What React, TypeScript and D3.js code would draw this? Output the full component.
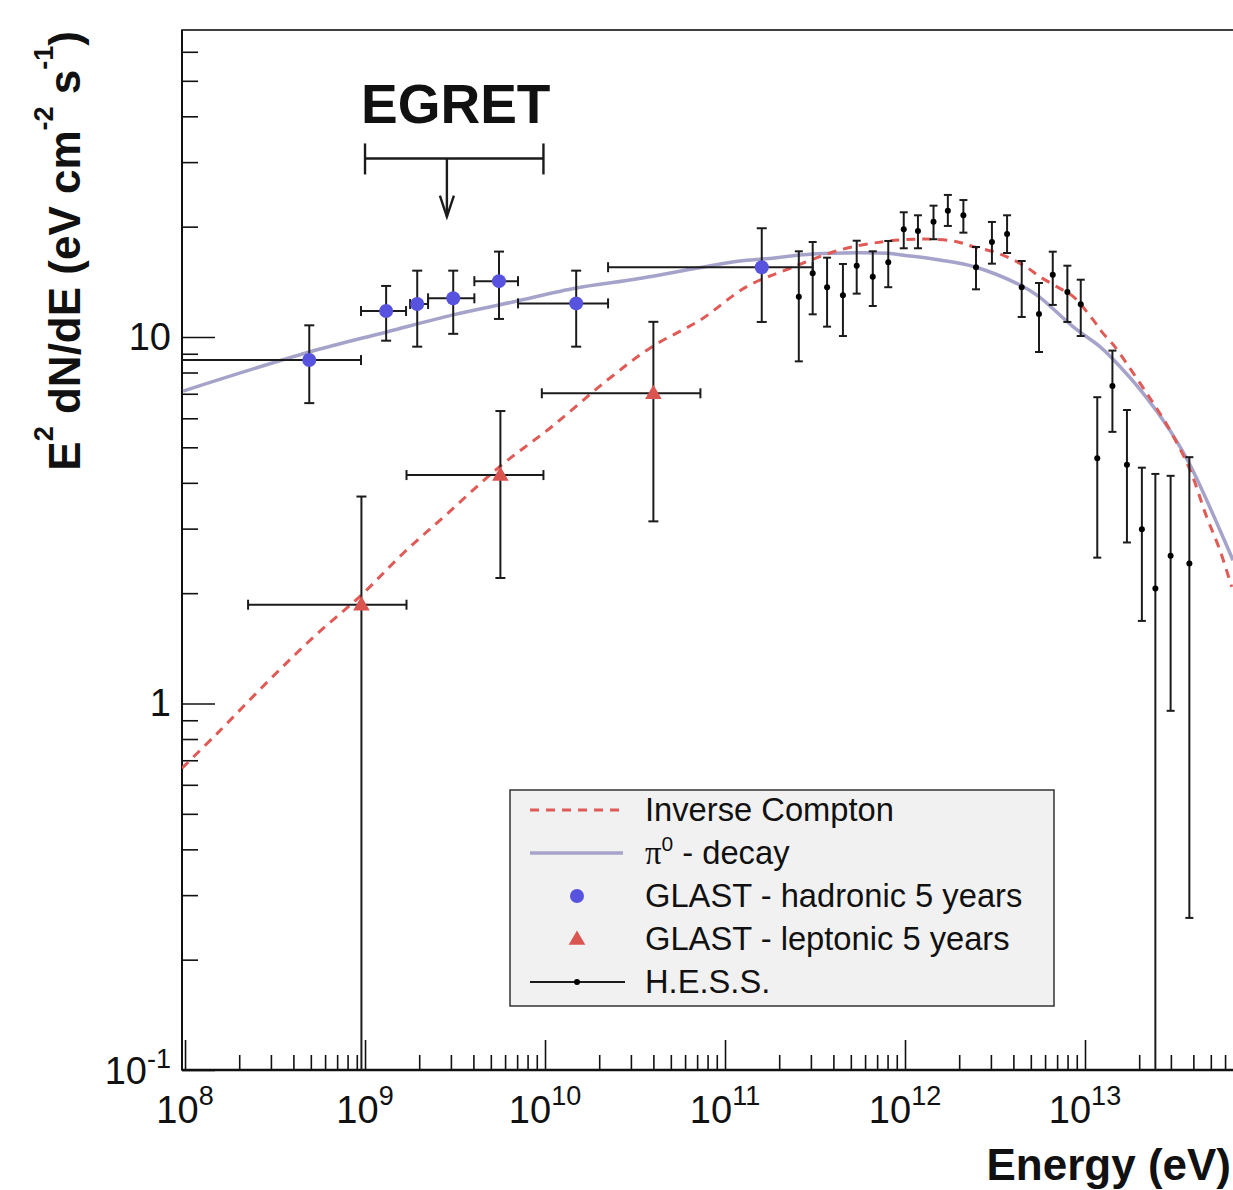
import React, { useEffect, useRef } from 'react';
import * as d3 from 'd3';

// GLAST - hadronic 5 years (blue circles), asymmetric errors
const hadE = [4.9e8, 1.31e9, 1.95e9, 3.09e9, 5.55e9, 1.49e10, 1.6e11];
const hadV = [8.65, 11.77, 12.3, 12.75, 14.2, 12.35, 15.5];
const hadELo = [5e7, 9.5e8, 1.78e9, 2.24e9, 4.05e9, 7.08e9, 2.24e10];
const hadEHi = [9.5e8, 1.69e9, 2.24e9, 4.05e9, 7.08e9, 2.24e10, 3.07e11];
const hadVLo = [6.6, 9.77, 9.41, 10.2, 11.2, 9.41, 10.99];
const hadVHi = [10.76, 13.78, 15.17, 15.17, 17.1, 15.17, 19.8];

// GLAST - leptonic 5 years (red triangles)
const lepE = [9.55e8, 5.65e9, 4.0e10];
const lepV = [1.86, 4.2, 7.02];
const lepELo = [2.24e8, 1.7e9, 9.6e9];
const lepEHi = [1.7e9, 9.8e9, 7.3e10];
const lepVLo = [0.05, 2.2, 3.14];
const lepVHi = [3.67, 6.28, 11.0];

// H.E.S.S. points
const hessE = [
  2.57e11, 3.07e11, 3.69e11, 4.52e11, 5.39e11, 6.62e11, 8.07e11, 9.84e11, 1.18e12,
  1.44e12, 1.73e12, 2.11e12, 2.48e12, 3.04e12, 3.69e12, 4.45e12, 5.55e12, 6.62e12,
  7.98e12, 9.47e12, 1.17e13, 1.42e13, 1.71e13, 2.07e13, 2.46e13, 2.99e13, 3.8e13,
];
const hessV = [
  12.88, 14.92, 13.67, 13.0, 15.65, 14.6, 15.99, 19.67, 19.46, 20.64, 22.11, 21.48,
  15.5, 18.16, 19.1, 13.67, 11.55, 14.79, 13.27, 12.28, 4.67, 7.35, 4.48, 2.99, 2.06,
  2.53, 2.41,
];
const hessHi = [
  17.13, 18.16, 16.46, 15.82, 18.31, 17.13, 18.28, 21.89, 21.48, 22.82, 24.41, 23.64,
  17.6, 20.6, 21.48, 16.12, 14.04, 17.09, 15.65, 14.33, 6.85, 9.18, 6.32, 4.4, 4.23,
  4.18, 4.7,
];
const hessLo = [
  8.58, 11.53, 10.67, 10.06, 13.13, 12.15, 13.67, 17.46, 17.46, 18.48, 20.09, 19.26,
  13.49, 15.85, 16.95, 11.34, 9.1, 12.23, 10.99, 10.06, 2.5, 5.51, 2.75, 1.68, 0.05,
  0.955, 0.26,
];

// model curves
const icE = [
  9.62e7, 1.51e8, 2.94e8, 5.2e8, 9.55e8, 1.63e9, 2.88e9, 5.6e9, 1.09e10, 2.22e10,
  3.94e10, 7.3e10, 1.32e11, 2.3e11, 4.36e11, 7.57e11, 1.11e12, 1.44e12, 1.94e12,
  2.39e12, 3.1e12, 3.83e12, 4.74e12, 5.62e12, 6.97e12, 8.61e12, 1.11e13, 1.26e13,
  1.44e13, 2.02e13, 2.5e13, 3.03e13, 3.83e13, 4.74e13, 5.62e13, 6.53e13,
];
const icV = [
  0.666, 0.829, 1.159, 1.521, 1.977, 2.57, 3.304, 4.43, 5.69, 7.63, 9.41, 11.13, 13.72,
  15.4, 17.28, 18.2, 18.48, 18.48, 18.2, 17.64, 17.09, 16.39, 15.5, 14.6, 13.72, 12.88,
  11.13, 10.23, 9.51, 7.48, 6.39, 5.46, 4.34, 3.23, 2.62, 2.08,
];
const pi0E = [
  9.75e7, 4.9e8, 1.32e9, 3.08e9, 6.64e9, 1.49e10, 2.96e10, 1.21e11, 1.63e11, 3.08e11,
  5.41e11, 8.05e11, 9.86e11, 1.56e12, 2.48e12, 4.47e12, 5.55e12, 8.57e12, 1.21e13,
  1.41e13, 2.1e13, 2.96e13, 3.83e13, 6.64e13,
];
const pi0V = [
  7.12, 9.1, 10.32, 11.49, 12.46, 13.6, 14.3, 16.12, 16.32, 16.84, 16.98, 16.92, 16.71,
  16.22, 15.5, 13.77, 12.88, 10.67, 9.41, 8.76, 7.03, 5.57, 4.48, 2.46,
];

// EGRET upper limit band
const egretE = [1e9, 9.8e9];
const egretMid = 2.85e9;
const egretV = [30.7, 21.3];

// axes
const xRange = [9.62e7, 1e14];
const yRange = [0.1, 68.8];
const xExp = [8, 9, 10, 11, 12, 13];
const yMajor = [0.1, 1, 10];
const yLabels = [['10', '-1'], ['1', ''], ['10', '']];

const legendLabels = [
  'Inverse Compton',
  'π0 - decay',
  'GLAST - hadronic 5 years',
  'GLAST - leptonic 5 years',
  'H.E.S.S.',
];

const W = 1233;
const H = 1190;
const FONT = '"Liberation Sans", Arial, Helvetica, sans-serif';
const BLUE = '#5753df';
const RED = '#db5550';
const IC_RED = '#e05a56';
const LAV = '#a6a3ca';
const INK = '#1b1b1b';

const Chart: React.FC = () => {
  const svgRef = useRef<SVGSVGElement>(null);

  useEffect(() => {
    if (!svgRef.current) return;
    const svg = d3.select(svgRef.current);
    svg.selectAll('*').remove();

    const left = 182;
    const right = 1265;
    const top = 30;
    const bottom = 1070;

    const x = d3.scaleLog().domain(xRange).range([left, right]);
    const y = d3.scaleLog().domain(yRange).range([bottom, top]);

    svg.append('rect').attr('width', W).attr('height', H).attr('fill', '#fff');

    svg
      .append('defs')
      .append('clipPath')
      .attr('id', 'plot-clip')
      .append('rect')
      .attr('x', left)
      .attr('y', top)
      .attr('width', right - left)
      .attr('height', bottom - top);

    // frame
    svg
      .append('rect')
      .attr('x', left)
      .attr('y', top)
      .attr('width', right - left)
      .attr('height', bottom - top)
      .attr('fill', 'none')
      .attr('stroke', '#111')
      .attr('stroke-width', 1.6);

    // x ticks (pointing up into the frame)
    const xMajorT = xExp.map((k) => Math.pow(10, k));
    const xMinorT = xMajorT.flatMap((t) => d3.range(2, 10).map((m) => m * t));
    const tickStyle = (g: any) => {
      g.select('.domain').remove();
      g.selectAll('line').attr('stroke', '#111').attr('stroke-width', 1.6);
    };
    svg
      .append('g')
      .attr('transform', `translate(0,${bottom})`)
      .call(d3.axisBottom(x).tickValues(xMinorT).tickSize(-15).tickFormat(() => '') as any)
      .call(tickStyle);
    svg
      .append('g')
      .attr('transform', `translate(0,${bottom})`)
      .call(d3.axisBottom(x).tickValues(xMajorT).tickSize(-30).tickFormat(() => '') as any)
      .call(tickStyle);

    // y ticks (pointing right into the frame)
    const yMinorT = [0.1, 1, 10].flatMap((t) => d3.range(2, 10).map((m) => m * t)).filter((v) => v <= yRange[1]);
    svg
      .append('g')
      .attr('transform', `translate(${left},0)`)
      .call(d3.axisLeft(y).tickValues(yMinorT).tickSize(-16).tickFormat(() => '') as any)
      .call(tickStyle);
    svg
      .append('g')
      .attr('transform', `translate(${left},0)`)
      .call(d3.axisLeft(y).tickValues(yMajor).tickSize(-33).tickFormat(() => '') as any)
      .call(tickStyle);

    // thicker axis lines
    svg.append('line').attr('x1', left).attr('x2', right).attr('y1', bottom).attr('y2', bottom)
      .attr('stroke', '#111').attr('stroke-width', 2.4);
    svg.append('line').attr('x1', left).attr('x2', left).attr('y1', top).attr('y2', bottom)
      .attr('stroke', '#111').attr('stroke-width', 2);

    // x tick labels
    xExp.forEach((k) => {
      const t = svg
        .append('text')
        .attr('x', x(Math.pow(10, k)))
        .attr('y', 1123)
        .attr('text-anchor', 'middle')
        .attr('font-family', FONT)
        .attr('font-size', 38)
        .attr('fill', '#111');
      t.append('tspan').text('10');
      t.append('tspan').attr('dy', -18).attr('font-size', 27).text(String(k));
    });

    // y tick labels
    yMajor.forEach((v, i) => {
      const [base, ex] = yLabels[i];
      const t = svg
        .append('text')
        .attr('x', 171)
        .attr('y', v === 0.1 ? 1084 : y(v) + 13)
        .attr('text-anchor', 'end')
        .attr('font-family', FONT)
        .attr('font-size', 38)
        .attr('fill', '#111');
      t.append('tspan').text(base);
      if (ex) t.append('tspan').attr('dy', -16).attr('font-size', 27).text(ex);
    });

    // axis titles
    svg
      .append('text')
      .attr('x', 1231)
      .attr('y', 1180)
      .attr('text-anchor', 'end')
      .attr('font-family', FONT)
      .attr('font-weight', 'bold')
      .attr('font-size', 44)
      .attr('fill', '#111')
      .text('Energy (eV)');

    const yt = svg
      .append('text')
      .attr('transform', 'translate(80,31) rotate(-90)')
      .attr('text-anchor', 'end')
      .attr('font-family', FONT)
      .attr('font-weight', 'bold')
      .attr('font-size', 44)
      .attr('fill', '#111');
    yt.append('tspan').text('E');
    yt.append('tspan').attr('dy', -27).attr('font-size', 27).text('2');
    yt.append('tspan').attr('dy', 27).text(' dN/dE (eV cm');
    yt.append('tspan').attr('dy', -27).attr('font-size', 27).text('-2');
    yt.append('tspan').attr('dy', 27).text(' s');
    yt.append('tspan').attr('dy', -27).attr('font-size', 27).text('-1');
    yt.append('tspan').attr('dy', 27).text(')');

    // plot content
    const plot = svg.append('g').attr('clip-path', 'url(#plot-clip)');

    const line = d3
      .line<[number, number]>()
      .x((d) => x(d[0]))
      .y((d) => y(d[1]))
      .curve(d3.curveCatmullRom.alpha(0.5));

    plot
      .append('path')
      .attr('d', line(pi0E.map((e, i) => [e, pi0V[i]]) as [number, number][]))
      .attr('fill', 'none')
      .attr('stroke', LAV)
      .attr('stroke-width', 3.5);

    plot
      .append('path')
      .attr('d', line(icE.map((e, i) => [e, icV[i]]) as [number, number][]))
      .attr('fill', 'none')
      .attr('stroke', IC_RED)
      .attr('stroke-width', 3)
      .attr('stroke-dasharray', '9,7');

    const drawErrors = (
      E: number[], V: number[], vLo: number[], vHi: number[],
      eLo: number[] | null, eHi: number[] | null, cap: number,
    ) => {
      const g = plot.append('g').attr('stroke', INK).attr('stroke-width', 2);
      E.forEach((e, i) => {
        const cx = x(e);
        const cy = y(V[i]);
        const yl = y(vLo[i]);
        const yh = y(vHi[i]);
        g.append('line').attr('x1', cx).attr('x2', cx).attr('y1', yl).attr('y2', yh);
        g.append('line').attr('x1', cx - cap).attr('x2', cx + cap).attr('y1', yh).attr('y2', yh);
        g.append('line').attr('x1', cx - cap).attr('x2', cx + cap).attr('y1', yl).attr('y2', yl);
        if (eLo && eHi) {
          const xl = x(eLo[i]);
          const xh = x(eHi[i]);
          g.append('line').attr('x1', xl).attr('x2', xh).attr('y1', cy).attr('y2', cy);
          g.append('line').attr('x1', xl).attr('x2', xl).attr('y1', cy - cap).attr('y2', cy + cap);
          g.append('line').attr('x1', xh).attr('x2', xh).attr('y1', cy - cap).attr('y2', cy + cap);
        }
      });
    };

    drawErrors(hessE, hessV, hessLo, hessHi, null, null, 4);
    drawErrors(hadE, hadV, hadVLo, hadVHi, hadELo, hadEHi, 5);
    drawErrors(lepE, lepV, lepVLo, lepVHi, lepELo, lepEHi, 5);

    plot
      .selectAll('circle.hess')
      .data(hessE)
      .enter()
      .append('circle')
      .attr('class', 'hess')
      .attr('cx', (d) => x(d))
      .attr('cy', (d, i) => y(hessV[i]))
      .attr('r', 3)
      .attr('fill', '#000');

    plot
      .selectAll('circle.had')
      .data(hadE)
      .enter()
      .append('circle')
      .attr('class', 'had')
      .attr('cx', (d) => x(d))
      .attr('cy', (d, i) => y(hadV[i]))
      .attr('r', 7)
      .attr('fill', BLUE);

    const tri = d3.symbol().type(d3.symbolTriangle).size(120);
    plot
      .selectAll('path.lep')
      .data(lepE)
      .enter()
      .append('path')
      .attr('class', 'lep')
      .attr('d', tri() as string)
      .attr('transform', (d, i) => `translate(${x(d)},${y(lepV[i]) + 1})`)
      .attr('fill', RED);

    // EGRET annotation
    const eg = svg.append('g').attr('stroke', INK).attr('stroke-width', 2.4).attr('fill', 'none');
    const ey = y(egretV[0]);
    const x0 = x(egretE[0]);
    const x1 = x(egretE[1]);
    const xm = x(egretMid);
    const tip = y(egretV[1]);
    eg.append('line').attr('x1', x0).attr('x2', x1).attr('y1', ey).attr('y2', ey);
    eg.append('line').attr('x1', x0).attr('x2', x0).attr('y1', ey - 15).attr('y2', ey + 16);
    eg.append('line').attr('x1', x1).attr('x2', x1).attr('y1', ey - 15).attr('y2', ey + 16);
    eg.append('line').attr('x1', xm).attr('x2', xm).attr('y1', ey).attr('y2', tip);
    eg.append('path').attr('d', `M${xm - 7},${tip - 21} L${xm},${tip} L${xm + 7},${tip - 21}`);
    svg
      .append('text')
      .attr('x', 361)
      .attr('y', 123)
      .attr('font-family', FONT)
      .attr('font-weight', 'bold')
      .attr('font-size', 55)
      .attr('fill', '#111')
      .text('EGRET');

    // legend
    const lg = svg.append('g');
    lg.append('rect')
      .attr('x', 510)
      .attr('y', 790)
      .attr('width', 544)
      .attr('height', 216)
      .attr('fill', '#f1f1f1')
      .attr('stroke', '#333')
      .attr('stroke-width', 1.5);

    const rowY = (i: number) => 810 + i * 43;
    legendLabels.forEach((label, i) => {
      const t = lg
        .append('text')
        .attr('x', 645)
        .attr('y', rowY(i) + 11)
        .attr('font-family', FONT)
        .attr('font-size', 32.7)
        .attr('fill', '#111');
      if (i === 1) {
        t.append('tspan').attr('font-family', '"Liberation Serif", "DejaVu Serif", serif').text('π');
        t.append('tspan').attr('dy', -13).attr('font-size', 21).text('0');
        t.append('tspan').attr('dy', 13).text(label.slice(2));
      } else {
        t.text(label);
      }
    });
    lg.append('line').attr('x1', 530).attr('x2', 623).attr('y1', rowY(0)).attr('y2', rowY(0))
      .attr('stroke', IC_RED).attr('stroke-width', 3).attr('stroke-dasharray', '9,7');
    lg.append('line').attr('x1', 530).attr('x2', 623).attr('y1', rowY(1)).attr('y2', rowY(1))
      .attr('stroke', LAV).attr('stroke-width', 3.5);
    lg.append('circle').attr('cx', 577).attr('cy', rowY(2)).attr('r', 7).attr('fill', BLUE);
    lg.append('path').attr('d', tri() as string)
      .attr('transform', `translate(577,${rowY(3) + 1})`).attr('fill', RED);
    lg.append('line').attr('x1', 530).attr('x2', 625).attr('y1', rowY(4)).attr('y2', rowY(4))
      .attr('stroke', INK).attr('stroke-width', 2);
    lg.append('circle').attr('cx', 577).attr('cy', rowY(4)).attr('r', 3).attr('fill', '#000');
  }, []);

  return (
    <svg
      ref={svgRef}
      width={W}
      height={H}
      style={{ position: 'absolute', left: 0, top: 0, display: 'block' }}
    ></svg>
  );
};

export default function App() {
  return <Chart />;
}
